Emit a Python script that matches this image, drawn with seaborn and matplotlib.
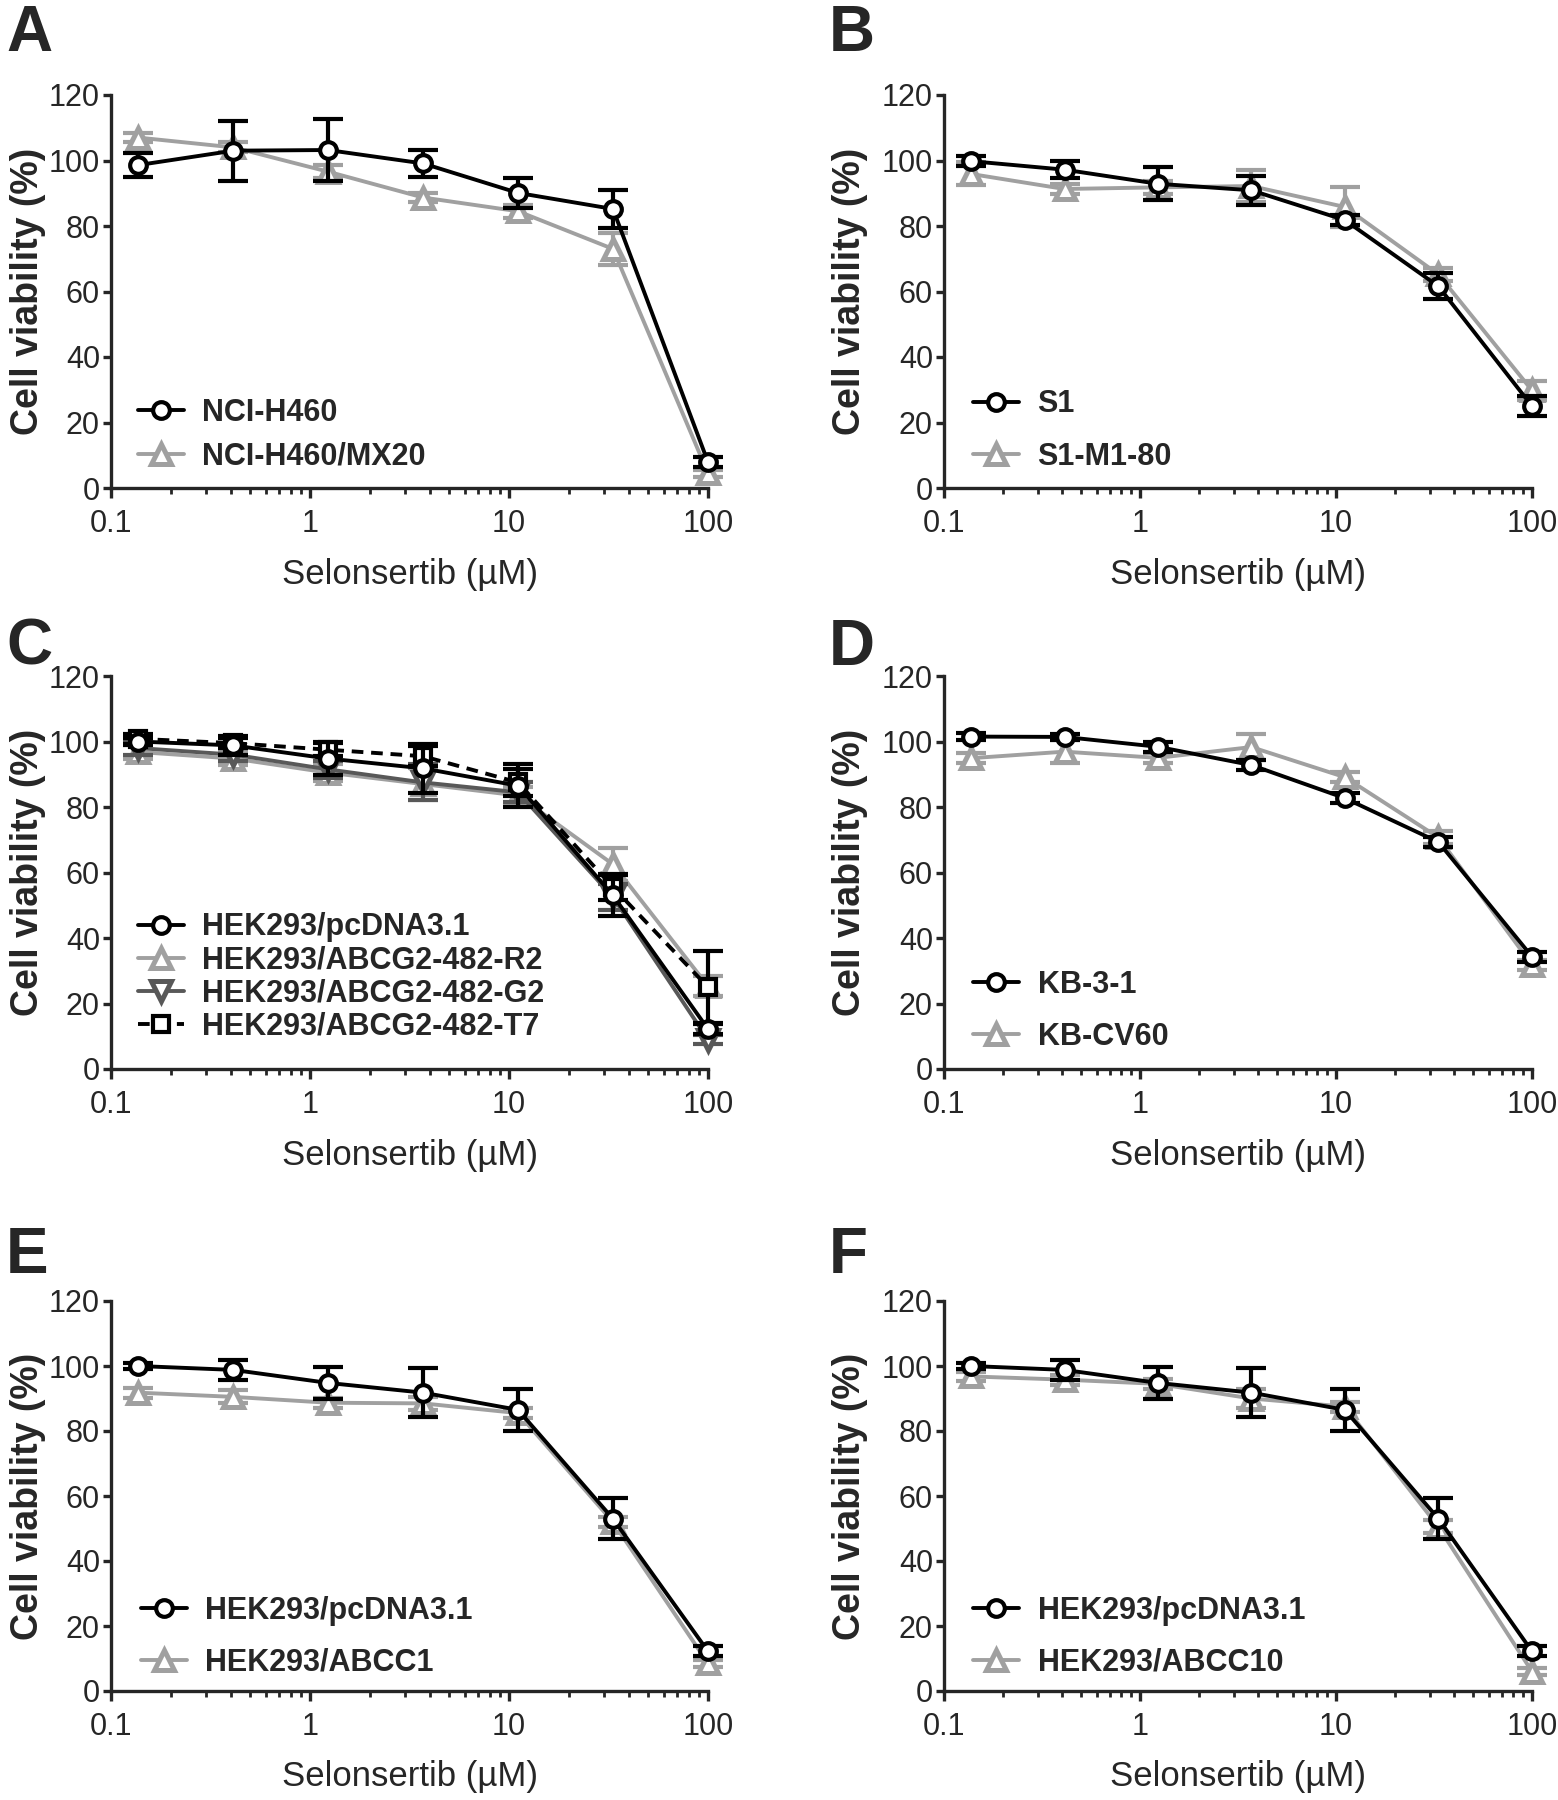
import numpy as np
import pandas as pd
import matplotlib
matplotlib.use("Agg")
import matplotlib.pyplot as plt
import seaborn as sns
from matplotlib.ticker import FixedLocator, FixedFormatter, LogLocator, NullFormatter

# ---------------- data ----------------
conc = [0.137, 0.412, 1.23, 3.70, 11.1, 33.3, 100.0]
x_ticks = [0.1, 1, 10, 100]
x_ticklabels = ["0.1", "1", "10", "100"]
y_ticks = [0, 20, 40, 60, 80, 100, 120]

# Panel A
h460 = [98.6, 103.0, 103.2, 99.1, 90.1, 85.2, 7.9]
h460_err = [3.7, 9.2, 9.4, 4.0, 4.7, 5.9, 1.5]
mx20 = [107.0, 104.0, 96.6, 88.7, 84.5, 73.0, 4.5]
mx20_err = [1.5, 1.5, 2.0, 1.5, 2.0, 5.0, 1.0]

# Panel B
s1 = [99.8, 97.2, 92.9, 90.9, 81.8, 61.6, 25.0]
s1_err = [1.5, 2.5, 5.0, 4.4, 1.5, 4.0, 3.0]
m180 = [95.9, 91.3, 91.8, 92.2, 85.8, 65.2, 29.8]
m180_err = [3.5, 1.5, 2.0, 5.0, 6.0, 2.0, 3.0]

# Panels C, E, F (parental line)
pcdna = [100.0, 98.8, 94.8, 91.8, 86.5, 53.0, 12.2]
pcdna_err = [1.0, 3.0, 5.0, 7.5, 6.5, 6.3, 1.5]

# Panel C
r2 = [96.8, 94.8, 90.5, 87.0, 83.5, 62.5, 25.3]
r2_err = [2.0, 2.0, 2.5, 5.0, 2.5, 5.0, 3.0]
g2 = [98.0, 96.0, 91.5, 87.5, 84.5, 52.5, 9.0]
g2_err = [2.0, 2.0, 2.5, 5.5, 3.0, 4.0, 1.5]
t7 = [100.8, 99.5, 97.5, 95.5, 87.5, 55.5, 25.0]
t7_err = [1.5, 1.5, 2.0, 3.0, 4.0, 4.0, 11.0]

# Panel D
kb31 = [101.5, 101.4, 98.4, 92.8, 82.7, 69.3, 34.3]
kb31_err = [1.0, 1.0, 1.5, 1.5, 1.5, 1.5, 1.5]
cv60 = [94.9, 96.9, 95.0, 98.3, 89.1, 70.7, 31.8]
cv60_err = [1.5, 3.5, 1.5, 4.0, 1.5, 2.0, 1.5]

# Panel E
abcc1 = [91.8, 90.5, 88.7, 88.5, 85.5, 52.0, 8.5]
abcc1_err = [1.5, 2.0, 1.5, 2.0, 1.5, 1.5, 1.0]

# Panel F
abcc10 = [96.8, 95.8, 94.5, 90.0, 87.5, 50.5, 6.0]
abcc10_err = [1.5, 1.5, 1.5, 3.0, 1.5, 2.0, 1.0]

# ---------------- style ----------------
sns.set_theme(style="ticks")
plt.rcParams["font.family"] = ["Liberation Sans", "DejaVu Sans"]

BLACK = "#000000"
GREY = "#a0a0a0"
DGREY = "#585858"

STY = {
    "black": dict(color=BLACK, marker="o", ms=12, mew=3.0, ls="-"),
    "grey": dict(color=GREY, marker="^", ms=14, mew=3.6, ls="-"),
    "dgrey": dict(color=DGREY, marker="v", ms=14, mew=3.6, ls="-"),
    "dash": dict(color=BLACK, marker="s", ms=12, mew=3.0, ls=(0, (3, 2))),
}

W, H = 1558, 1800
fig = plt.figure(figsize=(W / 100, H / 100), dpi=100)


def rect(l, r, t, b):
    return [l / W, 1 - b / H, (r - l) / W, (b - t) / H]


def draw_series(ax, vals, errs, label, sty, z):
    st = STY[sty]
    df = pd.DataFrame({"conc": conc, "val": vals})
    ax.errorbar(conc, vals, yerr=errs, fmt="none", ecolor=st["color"],
                elinewidth=3.0, capsize=11, capthick=3.0, clip_on=False, zorder=z)
    sns.lineplot(data=df, x="conc", y="val", ax=ax, color=st["color"],
                 linestyle=st["ls"], linewidth=2.8, marker=st["marker"],
                 markersize=st["ms"], markerfacecolor="white",
                 markeredgecolor=st["color"], markeredgewidth=st["mew"],
                 errorbar=None, clip_on=False, zorder=z + 0.5, label=label)


def style_axes(ax, ylab_x):
    ax.set_xscale("log")
    ax.set_xlim(0.1, 100)
    ax.set_ylim(0, 120)
    ax.xaxis.set_major_locator(FixedLocator(x_ticks))
    ax.xaxis.set_major_formatter(FixedFormatter(x_ticklabels))
    ax.xaxis.set_minor_locator(LogLocator(base=10, subs=np.arange(2, 10)))
    ax.xaxis.set_minor_formatter(NullFormatter())
    ax.yaxis.set_major_locator(FixedLocator(y_ticks))
    for s in ["top", "right"]:
        ax.spines[s].set_visible(False)
    for s in ["left", "bottom"]:
        ax.spines[s].set_linewidth(2.4)
    ax.tick_params(axis="x", which="major", length=7, width=2.4, pad=8, labelsize=22, direction="out")
    ax.tick_params(axis="x", which="minor", length=4.5, width=2.0, direction="out")
    ax.tick_params(axis="y", which="major", length=6, width=2.4, pad=2, labelsize=22, direction="out")
    ax.set_xlabel("Selonsertib (\u00b5M)", fontsize=25)
    ax.set_ylabel("Cell viability (%)", fontsize=27, fontweight="bold")
    ax.yaxis.set_label_coords(ylab_x, 0.5)
    ax.xaxis.set_label_coords(0.5, -0.177)


def legend(ax, order, x, y, spacing):
    h, l = ax.get_legend_handles_labels()
    d = dict(zip(l, h))
    ax.legend([d[k] for k in order], order, loc="lower left", bbox_to_anchor=(x, y),
              frameon=False, handlelength=1.5, handletextpad=0.6, borderpad=0,
              borderaxespad=0, labelspacing=spacing,
              prop=dict(weight="bold", size=22))


L1, R1 = 111, 708
L2, R2 = 944, 1532
rows = [(95, 488), (676, 1069), (1301, 1691)]

# A
axA = fig.add_axes(rect(L1, R1, *rows[0]))
draw_series(axA, mx20, mx20_err, "NCI-H460/MX20", "grey", 3)
draw_series(axA, h460, h460_err, "NCI-H460", "black", 5)
style_axes(axA, -0.109)
legend(axA, ["NCI-H460", "NCI-H460/MX20"], 0.045, 0.042, 0.45)

# B
axB = fig.add_axes(rect(L2, R2, *rows[0]))
draw_series(axB, m180, m180_err, "S1-M1-80", "grey", 3)
draw_series(axB, s1, s1_err, "S1", "black", 5)
style_axes(axB, -0.13)
legend(axB, ["S1", "S1-M1-80"], 0.05, 0.041, 0.74)

# C
axC = fig.add_axes(rect(L1, R1, *rows[1]))
draw_series(axC, r2, r2_err, "HEK293/ABCG2-482-R2", "grey", 3)
draw_series(axC, g2, g2_err, "HEK293/ABCG2-482-G2", "dgrey", 4)
draw_series(axC, t7, t7_err, "HEK293/ABCG2-482-T7", "dash", 5)
draw_series(axC, pcdna, pcdna_err, "HEK293/pcDNA3.1", "black", 6)
style_axes(axC, -0.109)
legend(axC, ["HEK293/pcDNA3.1", "HEK293/ABCG2-482-R2", "HEK293/ABCG2-482-G2",
             "HEK293/ABCG2-482-T7"], 0.045, 0.07, 0.1)

# D
axD = fig.add_axes(rect(L2, R2, *rows[1]))
draw_series(axD, cv60, cv60_err, "KB-CV60", "grey", 3)
draw_series(axD, kb31, kb31_err, "KB-3-1", "black", 5)
style_axes(axD, -0.13)
legend(axD, ["KB-3-1", "KB-CV60"], 0.05, 0.044, 0.72)

# E
axE = fig.add_axes(rect(L1, R1, *rows[2]))
draw_series(axE, abcc1, abcc1_err, "HEK293/ABCC1", "grey", 3)
draw_series(axE, pcdna, pcdna_err, "HEK293/pcDNA3.1", "black", 5)
style_axes(axE, -0.109)
legend(axE, ["HEK293/pcDNA3.1", "HEK293/ABCC1"], 0.05, 0.035, 0.7)

# F
axF = fig.add_axes(rect(L2, R2, *rows[2]))
draw_series(axF, abcc10, abcc10_err, "HEK293/ABCC10", "grey", 3)
draw_series(axF, pcdna, pcdna_err, "HEK293/pcDNA3.1", "black", 5)
style_axes(axF, -0.13)
legend(axF, ["HEK293/pcDNA3.1", "HEK293/ABCC10"], 0.05, 0.035, 0.7)

# panel letters
for letter, (px, py) in {"A": (6, 4), "B": (829, 4), "C": (6, 618),
                         "D": (829, 618), "E": (6, 1226), "F": (829, 1226)}.items():
    fig.text(px / W, 1 - py / H, letter, fontsize=46, fontweight="bold",
             ha="left", va="top")

fig.savefig("out.png", dpi=100)
